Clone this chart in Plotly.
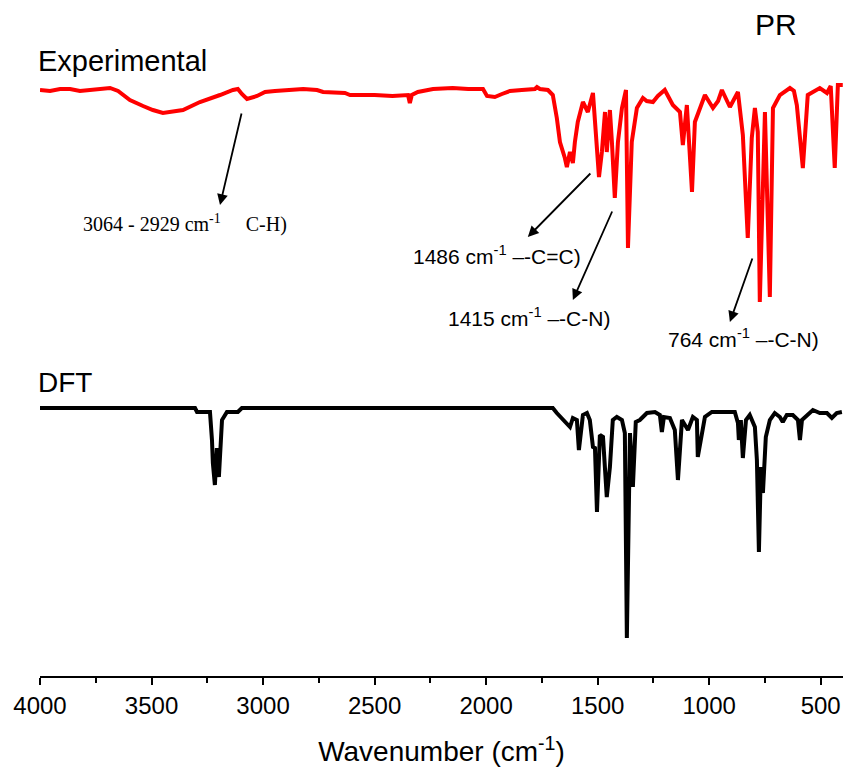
import plotly.graph_objects as go

# Experimental FTIR spectrum (wavenumber cm-1, intensity a.u. on a shared offset scale)
exp_wn = [4000, 3955, 3910, 3865, 3821, 3776, 3731, 3686, 3650, 3597, 3538, 3494, 3449, 3404,
          3359, 3283, 3238, 3193, 3135, 3113, 3095, 3072, 3027, 2991, 2947, 2879, 2820, 2758,
          2731, 2633, 2610, 2500, 2420, 2350, 2342, 2333, 2306, 2238, 2150, 2080, 2014, 1996,
          1961, 1929, 1893, 1840, 1781, 1772, 1759, 1723, 1701,
          1683, 1669, 1647, 1638, 1624, 1611, 1602, 1589, 1566, 1544, 1521, 1503, 1494, 1481,
          1467, 1459, 1445, 1436, 1423, 1409, 1391, 1373, 1364, 1347, 1324, 1297, 1280, 1252,
          1230, 1199, 1163, 1131, 1118, 1100, 1077, 1064, 1042, 1019, 983, 960, 943, 907, 871,
          849, 827, 809, 795, 782, 773, 750, 728, 714, 683, 638, 620, 607, 580, 558, 504, 490,
          472, 455, 437, 423, 401]
exp_int = [586, 585, 587, 587, 585, 586, 586, 588, 585, 576, 570, 566, 563, 564,
           566, 574, 577, 581, 586, 587, 582, 577, 580, 584, 585, 586, 587, 586,
           584, 583, 581, 581, 580, 581, 573, 581, 584, 587, 588, 587, 587, 580,
           579, 582, 585, 586, 587, 589, 587, 586, 581,
           558, 534, 518, 509, 524, 513, 534, 554, 574, 564, 583, 518, 499, 524,
           564, 524, 566, 534, 478, 534, 568, 586, 428, 534, 568, 578, 575, 574,
           580, 586, 571, 564, 531, 571, 484, 554, 568, 581, 568, 575, 586, 569, 584,
           541, 438, 538, 568, 544, 374, 564, 379, 568, 581, 588, 585, 571, 508, 581, 588, 586,
           583, 590, 508, 591, 591]

# DFT computed spectrum
dft_wn = [4000, 3305, 3296, 3238, 3229, 3225, 3216, 3207, 3198, 3184, 3162, 3113, 3095,
          1701, 1683, 1647, 1624, 1611, 1593, 1584, 1566, 1548, 1535, 1521, 1512, 1503,
          1490, 1476, 1459, 1445, 1432, 1414, 1391, 1378, 1369, 1355, 1342, 1329, 1311,
          1279, 1243, 1221, 1212, 1203, 1176, 1154, 1140, 1122, 1095, 1073, 1055, 1051,
          1033, 1019, 988, 885, 871, 867, 858, 849, 835, 818, 795, 786, 777, 768, 759,
          746, 728, 706, 683, 670, 652, 625, 602, 593, 584, 562, 535, 504, 472, 450, 428, 405]
dft_int = [268, 268, 264, 264, 236, 213, 191, 228, 199, 256, 264, 264, 268,
           268, 263, 254, 249, 258, 256, 226, 261, 263, 256, 229, 228, 164,
           241, 239, 179, 209, 256, 259, 256, 243, 38, 243, 189, 254, 256,
           263, 264, 261, 244, 259, 258, 246, 196, 256, 246, 259, 256, 219,
           243, 259, 264, 264, 253, 236, 256, 218, 256, 261, 249, 216, 124, 209, 183,
           239, 256, 263, 259, 254, 261, 261, 256, 236, 256, 261, 266, 263, 263, 258, 263, 264]

tick_vals = [4000, 3500, 3000, 2500, 2000, 1500, 1000, 500]
tick_text = ["4000", "3500", "3000", "2500", "2000", "1500", "1000", "500"]

SANS = "Liberation Sans, Arial"

fig = go.Figure()
fig.add_trace(go.Scatter(x=exp_wn, y=exp_int, mode="lines",
                         line=dict(color="#ff0000", width=4), showlegend=False))
fig.add_trace(go.Scatter(x=dft_wn, y=dft_int, mode="lines",
                         line=dict(color="#000000", width=4), showlegend=False))

fig.update_layout(
    width=845, height=773,
    margin=dict(l=40, r=2, t=40, b=97),
    paper_bgcolor="white", plot_bgcolor="white",
    xaxis=dict(range=[4000, 400], tickvals=tick_vals, ticktext=tick_text,
               showgrid=False, zeroline=False, showline=True, linecolor="black",
               linewidth=2, ticks="outside", ticklen=7, tickwidth=2, tickcolor="black",
               tickfont=dict(family=SANS, size=24, color="black"),
               minor=dict(dtick=250, tick0=0, ticks="outside", ticklen=5, tickwidth=2,
                          tickcolor="black"),
               title=dict(text="Wavenumber (cm<sup>-1</sup>)",
                          font=dict(family=SANS, size=28, color="black"), standoff=24)),
    yaxis=dict(range=[0, 636], visible=False),
)

arrows = [
    (3193, 471, 3095, 564),
    (1813, 439, 1526, 504),
    (1611, 376, 1432, 466),
    (907, 354, 804, 419),
]
for hx, hy, tx, ty in arrows:
    fig.add_annotation(x=hx, y=hy, ax=tx, ay=ty, xref="x", yref="y", axref="x", ayref="y",
                       showarrow=True, arrowhead=2, arrowsize=1.2, arrowwidth=1.8,
                       arrowcolor="black", text="")

def label(text, px, py, size, family, anchor="left"):
    fig.add_annotation(x=(px - 40) / 803, y=(676 - py) / 636, xref="paper", yref="paper",
                       text=text, showarrow=False, xanchor=anchor, yanchor="middle",
                       font=dict(family=family, size=size, color="black"))

label("Experimental", 36, 61, 29, SANS)
label("DFT", 36, 383, 28, SANS)
label("PR", 753, 25, 30, SANS)
label("3064 - 2929 cm<sup>-1</sup>\u00a0\u00a0\u00a0\u00a0 C-H)", 81, 223, 20,
      "Liberation Serif, Times New Roman, serif")
label("1486 cm<sup>-1</sup> \u2013-C=C)", 411, 255, 21, SANS)
label("1415 cm<sup>-1</sup> \u2013-C-N)", 446, 317, 21, SANS)
label("764 cm<sup>-1</sup> \u2013-C-N)", 666, 338, 21, SANS)

fig.write_html("out.html")
